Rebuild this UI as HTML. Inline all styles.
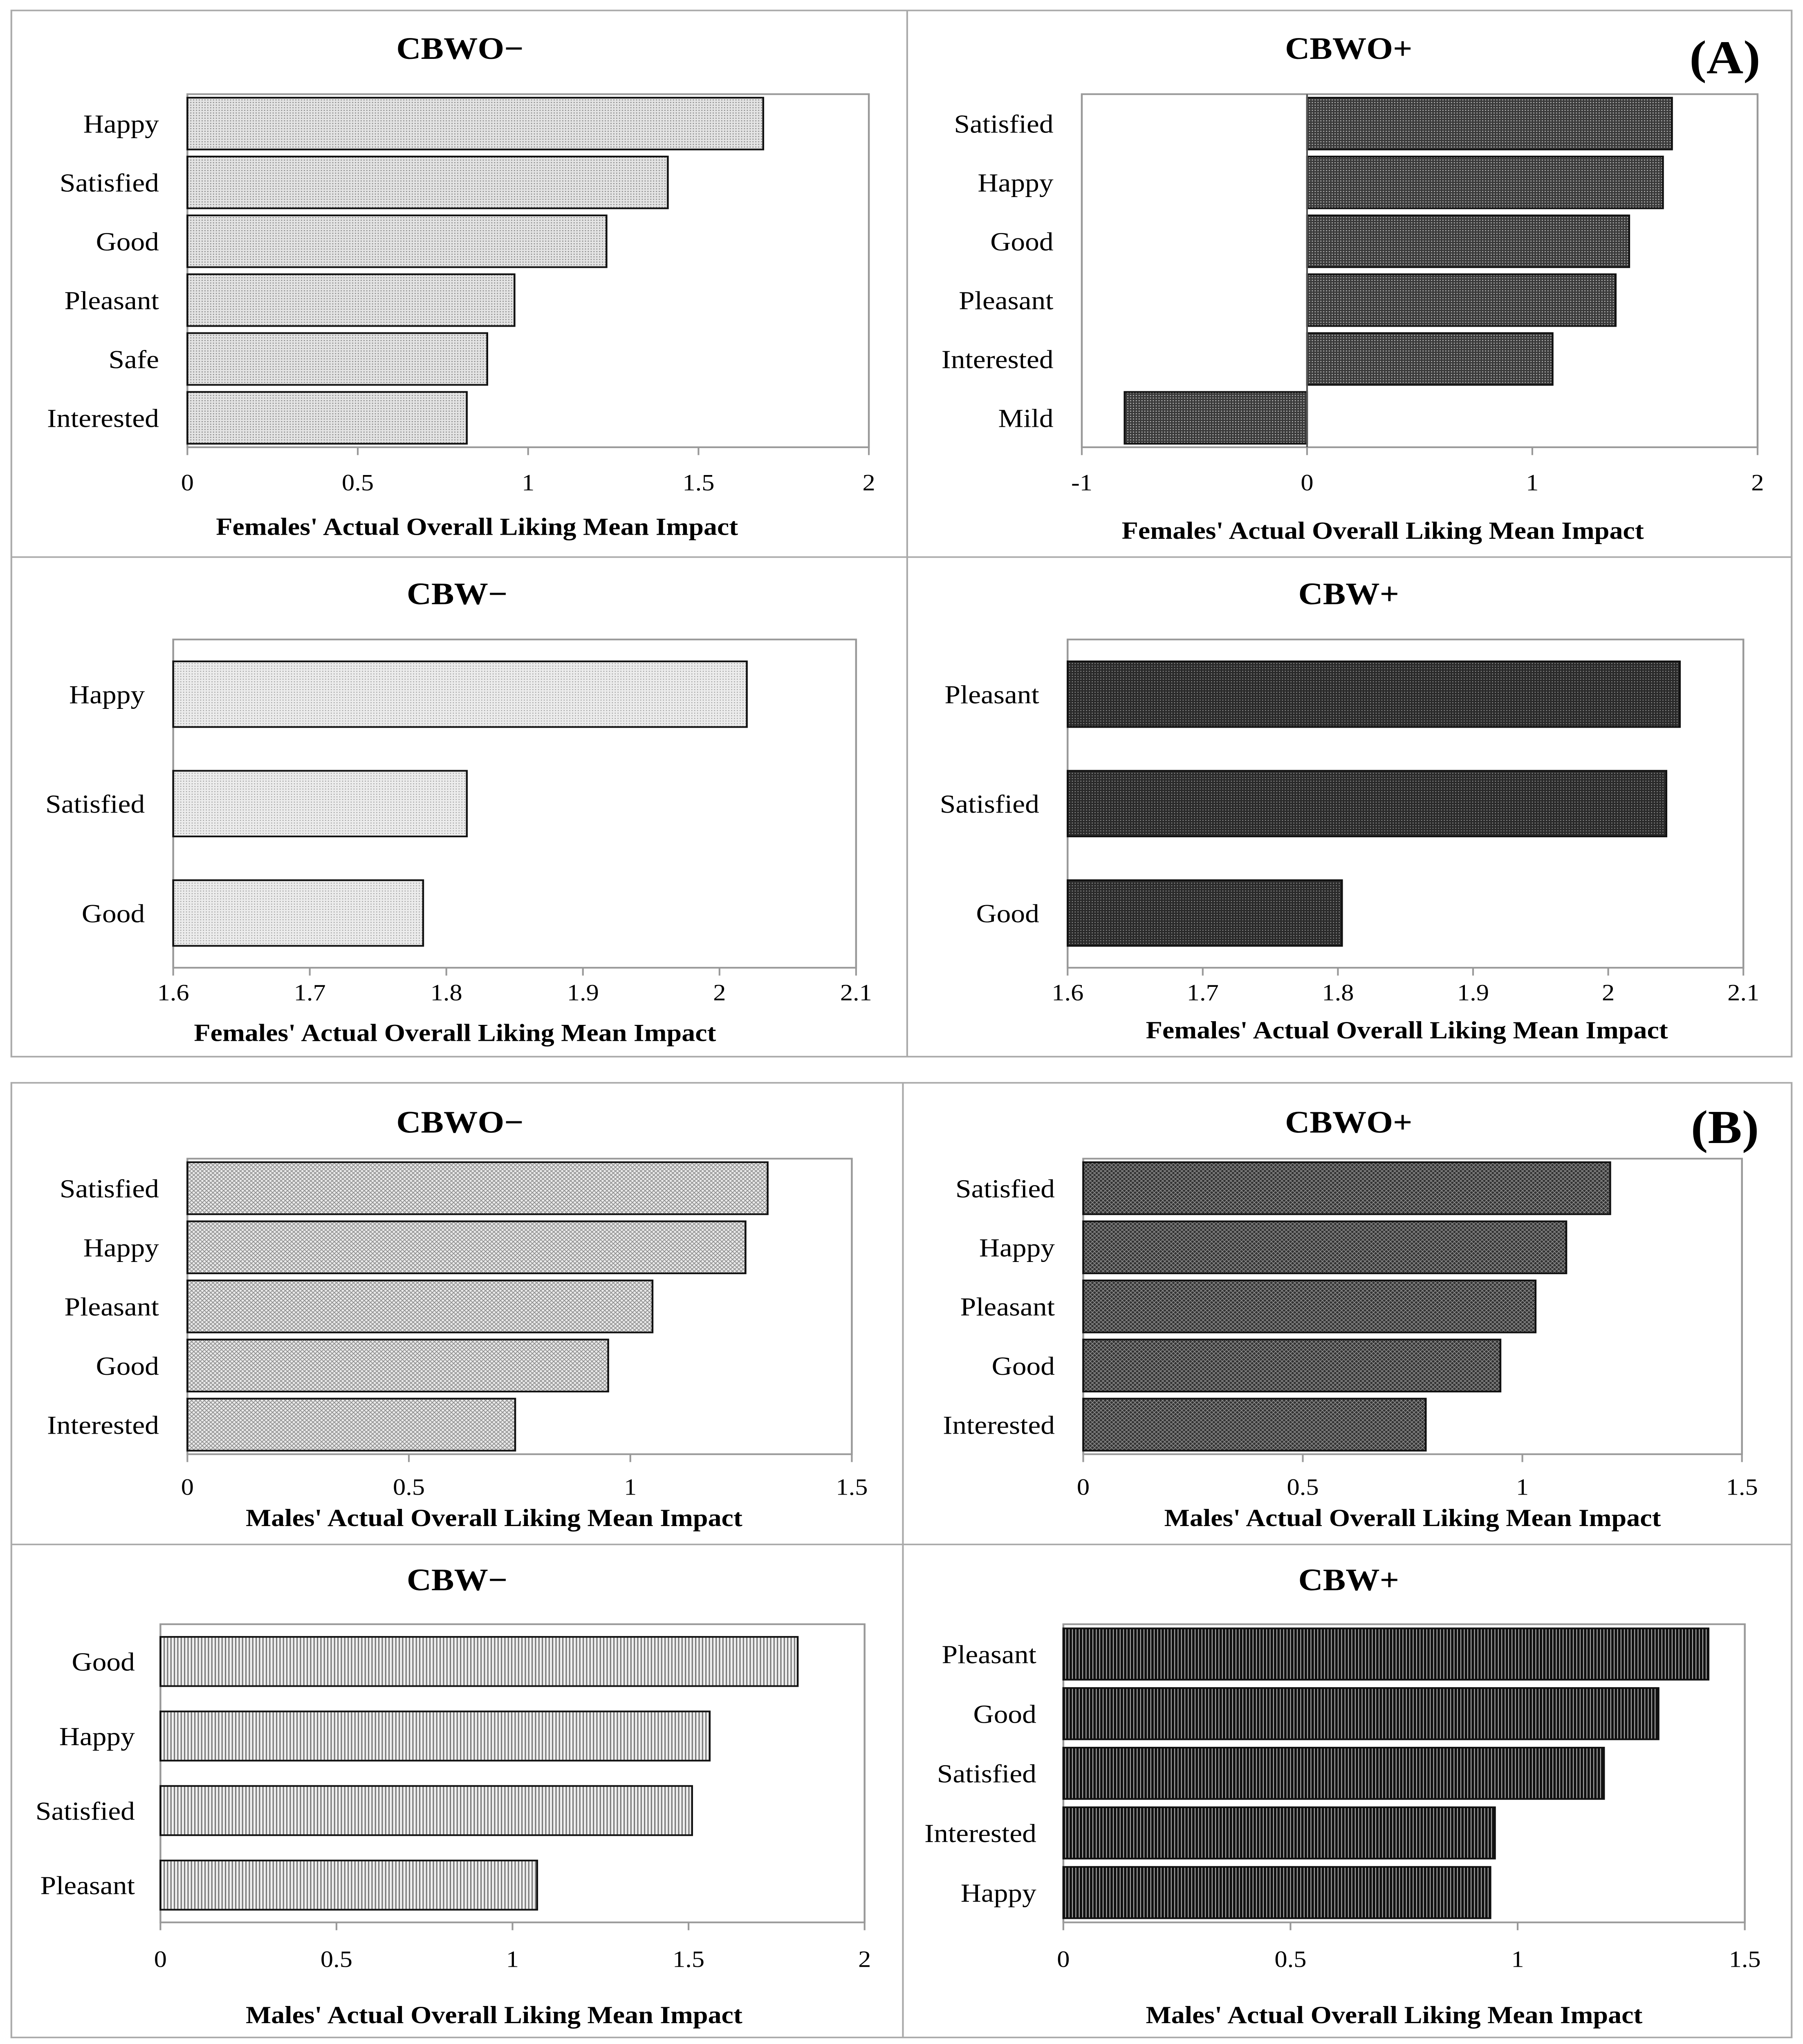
<!DOCTYPE html>
<html><head><meta charset="utf-8">
<style>html,body{margin:0;padding:0;background:#fff;overflow:hidden}svg{display:block;position:fixed;left:0;top:0;width:100vw;height:100vh}</style>
</head><body>
<svg id="fig" xmlns="http://www.w3.org/2000/svg" viewBox="0 0 1270 1563" preserveAspectRatio="none" font-family="'Liberation Serif', serif">
<defs>
<pattern id="pDotLight" width="2" height="2" patternUnits="userSpaceOnUse"><rect width="2" height="2" fill="#e4e4e4"/><rect x="0" y="0" width="0.8" height="0.8" fill="#888"/></pattern>
<pattern id="pDotLight2" width="2" height="2" patternUnits="userSpaceOnUse"><rect width="2" height="2" fill="#ececec"/><rect x="1" y="1" width="0.7" height="0.7" fill="#999"/></pattern>
<pattern id="pDotDark" width="2" height="2" patternUnits="userSpaceOnUse"><rect width="2" height="2" fill="#3a3a3a"/><rect x="0" y="0" width="0.8" height="0.8" fill="#bbb"/></pattern>
<pattern id="pDotDark2" width="2" height="2" patternUnits="userSpaceOnUse"><rect width="2" height="2" fill="#2a2a2a"/><rect x="1" y="1" width="0.7" height="0.7" fill="#999"/></pattern>
<pattern id="pHatchLight" width="3" height="3" patternUnits="userSpaceOnUse"><rect width="3" height="3" fill="#eaeaea"/><path d="M0,0L3,3M3,0L0,3" stroke="#888" stroke-width="0.5"/></pattern>
<pattern id="pHatchDark" width="3" height="3" patternUnits="userSpaceOnUse"><rect width="3" height="3" fill="#333"/><path d="M0,0L3,3M3,0L0,3" stroke="#999" stroke-width="0.4"/></pattern>
<pattern id="pVLight" width="2.4" height="2" patternUnits="userSpaceOnUse"><rect width="2.4" height="2" fill="#f0f0f0"/><rect width="0.9" height="2" fill="#777"/></pattern>
<pattern id="pVDark" width="2.4" height="2" patternUnits="userSpaceOnUse"><rect width="2.4" height="2" fill="#111"/><rect x="1.5" width="0.6" height="2" fill="#bbb"/></pattern>
</defs>
<g id="frames" stroke="#aaa" stroke-width="1.2" fill="none">
<rect x="8" y="8" width="1254" height="800"/>
<line x1="639" y1="8" x2="639" y2="808"/><line x1="8" y1="426" x2="1262" y2="426"/>
<rect x="8" y="828" width="1254" height="730"/>
<line x1="636" y1="828" x2="636" y2="1558"/><line x1="8" y1="1181" x2="1262" y2="1181"/>
</g>
<text x="1215" y="56" font-size="36" font-weight="bold" text-anchor="middle">(A)</text>
<text x="1215" y="874" font-size="36" font-weight="bold" text-anchor="middle">(B)</text>
</svg>
<script>
// Chart data
const c1Cats = ["Happy","Satisfied","Good","Pleasant","Safe","Interested"];
const c1Vals = [1.69,1.41,1.23,0.96,0.88,0.82];
const c1Ticks = [0,0.5,1,1.5,2];
const c2Cats = ["Satisfied","Happy","Good","Pleasant","Interested","Mild"];
const c2Vals = [1.62,1.58,1.43,1.37,1.09,-0.81];
const c2Ticks = [-1,0,1,2];
const c3Cats = ["Happy","Satisfied","Good"];
const c3Vals = [2.02,1.815,1.783];
const c3Ticks = [1.6,1.7,1.8,1.9,2,2.1];
const c4Cats = ["Pleasant","Satisfied","Good"];
const c4Vals = [2.053,2.043,1.803];
const c4Ticks = [1.6,1.7,1.8,1.9,2,2.1];
const c5Cats = ["Satisfied","Happy","Pleasant","Good","Interested"];
const c5Vals = [1.31,1.26,1.05,0.95,0.74];
const c5Ticks = [0,0.5,1,1.5];
const c6Cats = ["Satisfied","Happy","Pleasant","Good","Interested"];
const c6Vals = [1.2,1.1,1.03,0.95,0.78];
const c6Ticks = [0,0.5,1,1.5];
const c7Cats = ["Good","Happy","Satisfied","Pleasant"];
const c7Vals = [1.81,1.56,1.51,1.07];
const c7Ticks = [0,0.5,1,1.5,2];
const c8Cats = ["Pleasant","Good","Satisfied","Interested","Happy"];
const c8Vals = [1.42,1.31,1.19,0.95,0.94];
const c8Ticks = [0,0.5,1,1.5];

const NS = "http://www.w3.org/2000/svg";
const svg = document.getElementById('fig');
function mk(tag, attrs, parent){
  const e = document.createElementNS(NS, tag);
  for (const k in attrs) e.setAttribute(k, attrs[k]);
  (parent||svg).appendChild(e); return e;
}
function chart(id, o, cats, vals, ticks){
  const g = mk('g', {});
  
  
  const min = ticks[0], max = ticks[ticks.length-1];
  const xs = v => o.x0 + (v-min)/(max-min)*(o.x1-o.x0);
  const band = (o.y1-o.y0)/cats.length;
  const t = mk('text', {x:o.tx, y:o.ty, 'font-size':24, 'font-weight':'bold', 'text-anchor':'middle'}, g);
  t.textContent = o.title;
  
  
  const fr = mk('rect', {x:o.x0, y:o.y0, width:o.x1-o.x0, height:o.y1-o.y0, fill:'none', stroke:'#999', 'stroke-width':1.3}, g);
  
  
  const base = xs(Math.max(min, 0));
  cats.forEach((c, i) => {
    const yc = o.y0 + band*(i+0.5);
    const bh = band*o.bf;
    const v = vals[i];
    const xa = Math.min(xs(v), base), xb = Math.max(xs(v), base);
    const r = mk('rect', {x:xa, y:yc-bh/2, width:xb-xa, height:bh, fill:'url(#'+o.pat+')', stroke:'#111', 'stroke-width':1.3}, g);
    
    
    const l = mk('text', {x:o.lx, y:yc+7, 'font-size':20, 'text-anchor':'end'}, g);
    l.textContent = c;
    
    
  });
  if (min < 0) mk('line', {x1:xs(0), y1:o.y0, x2:xs(0), y2:o.y1, stroke:'#555', 'stroke-width':1.2}, g);
  ticks.forEach(tv => {
    const x = xs(tv);
    mk('line', {x1:x, y1:o.y1, x2:x, y2:o.y1+6, stroke:'#999', 'stroke-width':1.2}, g);
    const tl = mk('text', {x:x, y:o.tly, 'font-size':18, 'text-anchor':'middle'}, g);
    tl.textContent = String(tv);
    
    
  });
  const at = mk('text', {x:(o.x0+o.x1)/2+o.atdx, y:o.aty, 'font-size':19, 'font-weight':'bold', 'text-anchor':'middle'}, g);
  at.textContent = o.axis;
  
  
}
const F = "Females' Actual Overall Liking Mean Impact", M = "Males' Actual Overall Liking Mean Impact";
chart('chart-female-cbwo-minus', {title:'CBWO\u2212', tx:324, ty:45, x0:132, x1:612, y0:72, y1:342, lx:112, tly:375, aty:409, atdx:-36, bf:0.88, pat:'pDotLight', axis:F}, c1Cats, c1Vals, c1Ticks);
chart('chart-female-cbwo-plus', {title:'CBWO+', tx:950, ty:45, x0:762, x1:1238, y0:72, y1:342, lx:742, tly:375, aty:412, atdx:-26, bf:0.88, pat:'pDotDark', axis:F}, c2Cats, c2Vals, c2Ticks);
chart('chart-female-cbw-minus', {title:'CBW\u2212', tx:322, ty:462, x0:122, x1:603, y0:489, y1:740, lx:102, tly:765, aty:796, atdx:-42, bf:0.6, pat:'pDotLight2', axis:F}, c3Cats, c3Vals, c3Ticks);
chart('chart-female-cbw-plus', {title:'CBW+', tx:950, ty:462, x0:752, x1:1228, y0:489, y1:740, lx:732, tly:765, aty:794, atdx:1, bf:0.6, pat:'pDotDark2', axis:F}, c4Cats, c4Vals, c4Ticks);
chart('chart-male-cbwo-minus', {title:'CBWO\u2212', tx:324, ty:866, x0:132, x1:600, y0:886, y1:1112, lx:112, tly:1143, aty:1167, atdx:-18, bf:0.88, pat:'pHatchLight', axis:M}, c5Cats, c5Vals, c5Ticks);
chart('chart-male-cbwo-plus', {title:'CBWO+', tx:950, ty:866, x0:763, x1:1227, y0:886, y1:1112, lx:743, tly:1143, aty:1167, atdx:0, bf:0.88, pat:'pHatchDark', axis:M}, c6Cats, c6Vals, c6Ticks);
chart('chart-male-cbw-minus', {title:'CBW\u2212', tx:322, ty:1216, x0:113, x1:609, y0:1242, y1:1470, lx:95, tly:1504, aty:1547, atdx:-13, bf:0.66, pat:'pVLight', axis:M}, c7Cats, c7Vals, c7Ticks);
chart('chart-male-cbw-plus', {title:'CBW+', tx:950, ty:1216, x0:749, x1:1229, y0:1242, y1:1470, lx:730, tly:1504, aty:1547, atdx:-7, bf:0.86, pat:'pVDark', axis:M}, c8Cats, c8Vals, c8Ticks);
</script>
</body></html>
